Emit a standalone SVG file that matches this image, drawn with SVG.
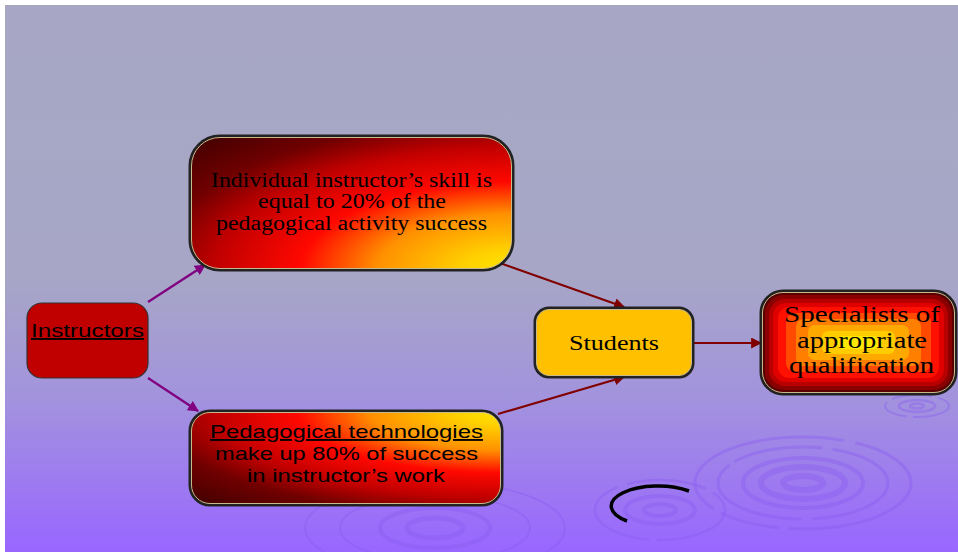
<svg xmlns="http://www.w3.org/2000/svg" width="958" height="552" viewBox="0 0 958 552">
  <defs>
    <linearGradient id="bg" x1="0" y1="0" x2="0" y2="1">
      <stop offset="0" stop-color="#A7A7C5"/>
      <stop offset="0.5" stop-color="#A7A6C6"/>
      <stop offset="0.72" stop-color="#A293DD"/>
      <stop offset="1" stop-color="#9966FF"/>
    </linearGradient>
    <radialGradient id="gTop" cx="1" cy="1" r="1.4">
      <stop offset="0" stop-color="#FFE800"/>
      <stop offset="0.11" stop-color="#FFD000"/>
      <stop offset="0.3" stop-color="#FF9000"/>
      <stop offset="0.47" stop-color="#FF0800"/>
      <stop offset="0.66" stop-color="#C00000"/>
      <stop offset="0.8" stop-color="#700000"/>
      <stop offset="1" stop-color="#400000"/>
    </radialGradient>
    <radialGradient id="gBot" cx="1" cy="0" r="1.4">
      <stop offset="0" stop-color="#FFE800"/>
      <stop offset="0.11" stop-color="#FFD000"/>
      <stop offset="0.3" stop-color="#FF9000"/>
      <stop offset="0.47" stop-color="#FF0800"/>
      <stop offset="0.66" stop-color="#C00000"/>
      <stop offset="0.8" stop-color="#700000"/>
      <stop offset="1" stop-color="#400000"/>
    </radialGradient>
    <marker id="arrP" viewBox="0 0 10 10" refX="9" refY="5" markerWidth="5" markerHeight="5" orient="auto" markerUnits="strokeWidth">
      <path d="M0,0 L10,5 L0,10 z" fill="#800080"/>
    </marker>
    <marker id="arrR" viewBox="0 0 10 10" refX="9" refY="5" markerWidth="5" markerHeight="5" orient="auto" markerUnits="strokeWidth">
      <path d="M0,0 L10,5 L0,10 z" fill="#800000"/>
    </marker>
  </defs>
  <style>
    .outer { fill: none; stroke: #222; stroke-width: 3; }
    .inner { fill: none; stroke: #C8B98A; stroke-width: 1; }
    .serif { font-family: "Liberation Serif", "Times New Roman", serif; fill: #000; text-anchor: middle; }
    .sans { font-family: "Liberation Sans", Arial, sans-serif; fill: #000; text-anchor: middle; }
    .rip { fill: none; stroke: #8A5CF0; opacity: 0.4; }
    .connP { stroke: #800080; stroke-width: 2.2; fill: none; }
    .connR { stroke: #800000; stroke-width: 2.2; fill: none; }
  </style>

  <rect x="5" y="5" width="953" height="547" fill="url(#bg)"/>

  <g id="ripples">
    <ellipse class="rip" cx="803" cy="483" rx="108" ry="46" stroke-width="3" stroke-dasharray="140 10 60 8 200 12"/>
    <ellipse class="rip" cx="803" cy="483" rx="85" ry="36" stroke-width="3" stroke-dasharray="90 10 120 6"/>
    <ellipse class="rip" cx="803" cy="483" rx="60" ry="25" stroke-width="4"/>
    <ellipse class="rip" cx="803" cy="483" rx="42" ry="16" stroke-width="6"/>
    <ellipse class="rip" cx="803" cy="483" rx="20" ry="7" stroke-width="6"/>
    <ellipse class="rip" cx="660" cy="510" rx="65" ry="30" stroke-width="2.5" stroke-dasharray="80 8 100 10"/>
    <ellipse class="rip" cx="660" cy="510" rx="35" ry="14" stroke-width="4"/>
    <ellipse class="rip" cx="660" cy="510" rx="16" ry="6" stroke-width="4"/>
    <path d="M627,521 A42,18 0 0 1 689,491" fill="none" stroke="#000" stroke-width="3.5"/>
    <ellipse class="rip" cx="435" cy="528" rx="130" ry="46" stroke-width="2" stroke-dasharray="120 10 90 12"/>
    <ellipse class="rip" cx="435" cy="528" rx="95" ry="33" stroke-width="2"/>
    <ellipse class="rip" cx="435" cy="528" rx="55" ry="20" stroke-width="4"/>
    <ellipse class="rip" cx="435" cy="528" rx="28" ry="10" stroke-width="5"/>
    <ellipse class="rip" cx="917" cy="406" rx="32" ry="11" stroke-width="2" stroke-dasharray="40 6 30 6"/>
    <ellipse class="rip" cx="917" cy="406" rx="18" ry="6" stroke-width="2.5"/>
    <ellipse class="rip" cx="917" cy="406" rx="7" ry="2.5" stroke-width="2.5"/>
  </g>

  <g id="connectors">
    <line class="connP" x1="148" y1="302" x2="205" y2="265" marker-end="url(#arrP)"/>
    <line class="connP" x1="148" y1="378" x2="198" y2="411" marker-end="url(#arrP)"/>
    <line class="connR" x1="500" y1="263" x2="624" y2="307" marker-end="url(#arrR)"/>
    <line class="connR" x1="498" y1="414" x2="624" y2="377" marker-end="url(#arrR)"/>
    <line class="connR" x1="693" y1="343" x2="761" y2="343" marker-end="url(#arrR)"/>
  </g>

  <g id="instructors">
    <rect x="27" y="303" width="121" height="75" rx="15" fill="#C00000" stroke="#333" stroke-width="1.2"/>
    <text class="sans" x="87.5" y="337" font-size="19" text-decoration="underline" textLength="113" lengthAdjust="spacingAndGlyphs">Instructors</text>
  </g>

  <g id="skill">
    <rect x="190" y="136" width="323" height="134" rx="30" fill="url(#gTop)"/>
    <rect class="outer" x="190" y="136" width="323" height="134" rx="30"/>
    <rect class="inner" x="191.5" y="137.5" width="320" height="131" rx="28.5"/>
    <text class="serif" x="351.5" y="187" font-size="20" textLength="281" lengthAdjust="spacingAndGlyphs">Individual instructor’s skill is</text>
    <text class="serif" x="352" y="208" font-size="20" textLength="188" lengthAdjust="spacingAndGlyphs">equal to 20% of the</text>
    <text class="serif" x="351.5" y="230" font-size="20" textLength="271" lengthAdjust="spacingAndGlyphs">pedagogical activity success</text>
  </g>

  <g id="technologies">
    <rect x="190" y="411" width="312" height="94" rx="20" fill="url(#gBot)"/>
    <rect class="outer" x="190" y="411" width="312" height="94" rx="20"/>
    <rect class="inner" x="191.5" y="412.5" width="309" height="91" rx="18.5"/>
    <text class="sans" x="346.5" y="438" font-size="19" text-decoration="underline" textLength="273" lengthAdjust="spacingAndGlyphs">Pedagogical technologies</text>
    <text class="sans" x="346.5" y="460" font-size="19" textLength="263" lengthAdjust="spacingAndGlyphs">make up 80% of success</text>
    <text class="sans" x="346" y="482" font-size="19" textLength="198" lengthAdjust="spacingAndGlyphs">in instructor’s work</text>
  </g>

  <g id="students">
    <rect x="535" y="308" width="158" height="69" rx="14" fill="#FFC000"/>
    <rect class="outer" x="535" y="308" width="158" height="69" rx="14"/>
    <rect class="inner" x="536.5" y="309.5" width="155" height="66" rx="12.5"/>
    <text class="serif" x="614" y="350" font-size="20" textLength="90" lengthAdjust="spacingAndGlyphs">Students</text>
  </g>

  <g id="specialists">
    <rect x="761" y="291" width="195" height="103" rx="22" fill="#5A0000"/>
    <rect x="765" y="295" width="187" height="95" rx="19" fill="#8A0000"/>
    <rect x="769" y="299" width="179" height="87" rx="16" fill="#B80000"/>
    <rect x="773" y="303" width="171" height="79" rx="13" fill="#E00000"/>
    <rect x="778" y="307" width="161" height="71" rx="11" fill="#FF1000"/>
    <rect x="786" y="313" width="145" height="59" rx="9" fill="#FF4A00"/>
    <rect x="796" y="319" width="125" height="47" rx="8" fill="#FF8000"/>
    <rect x="808" y="325" width="101" height="35" rx="7" fill="#FFA800"/>
    <rect x="822" y="331" width="73" height="23" rx="6" fill="#FFCC00"/>
    <rect x="838" y="336" width="41" height="13" rx="5" fill="#FFE800"/>
    <rect class="outer" x="761" y="291" width="195" height="103" rx="22"/>
    <rect class="inner" x="762.5" y="292.5" width="192" height="100" rx="20.5"/>
    <text class="serif" x="862" y="322" font-size="23" textLength="156" lengthAdjust="spacingAndGlyphs">Specialists of</text>
    <text class="serif" x="862" y="348" font-size="23" textLength="130" lengthAdjust="spacingAndGlyphs">appropriate</text>
    <text class="serif" x="861.5" y="373" font-size="23" textLength="145" lengthAdjust="spacingAndGlyphs">qualification</text>
  </g>
</svg>
